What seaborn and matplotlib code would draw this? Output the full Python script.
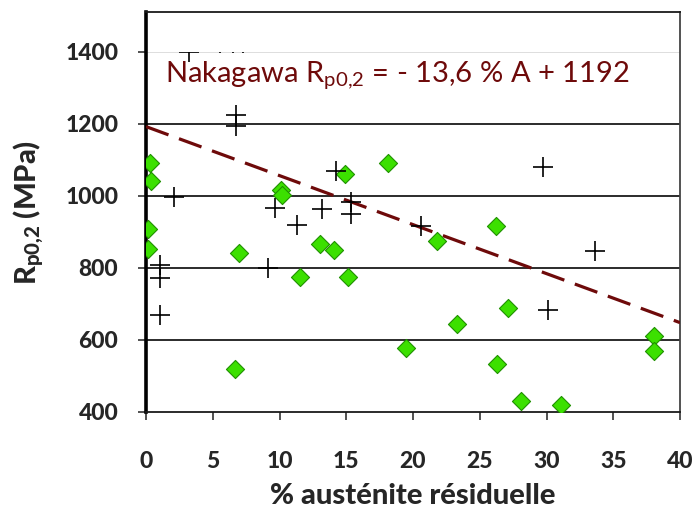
import matplotlib
matplotlib.use("Agg")
import matplotlib.pyplot as plt
from matplotlib.patches import Rectangle
import seaborn as sns
import pandas as pd

# Green series (diamonds): % retained austenite vs Rp0,2 (MPa)
green_x = [0.3, 0.35, 0.17, 0.17, 7.0, 10.1, 10.2, 13.0, 14.1, 11.5, 6.7,
           14.9, 18.15, 21.8, 26.2, 15.15, 19.5, 23.3, 27.1, 26.3, 28.1,
           31.1, 38.05, 38.05]
green_y = [1091, 1042, 907, 852, 841, 1017, 1003, 867, 850, 776, 519,
           1060, 1092, 875, 917, 776, 577, 643, 688, 532, 431,
           419, 611, 568]

# Black series (plus markers)
plus_x = [3.2, 5.55, 6.5, 7.3, 6.74, 6.74, 2.1, 9.66, 11.3, 13.2, 14.2,
          1.05, 1.05, 1.05, 9.16, 15.33, 15.33, 20.6, 29.76, 33.6, 30.1]
plus_y = [1400, 1424, 1424, 1424, 1225, 1193, 998, 966, 919, 964, 1069,
          808, 771, 669, 799, 984, 950, 917, 1079, 848, 683]

# Nakagawa fit: Rp0,2 = -13.6 * A + 1192
slope, intercept = -13.6, 1192
fit_x = [0, 40]

x_ticks = [0, 5, 10, 15, 20, 25, 30, 35, 40]
y_ticks = [400, 600, 800, 1000, 1200, 1400]

sns.set_theme(style="white")
plt.rcParams["font.family"] = ["Lato", "DejaVu Sans"]
plt.rcParams["mathtext.fontset"] = "custom"
plt.rcParams["mathtext.rm"] = "Lato"
plt.rcParams["mathtext.it"] = "Lato:italic"
plt.rcParams["mathtext.bf"] = "Lato:black"

fig = plt.figure(figsize=(6.97, 5.08), dpi=100)
ax = fig.add_axes([146 / 697, 1 - 412 / 508, (680 - 146) / 697, (412 - 12) / 508])

ax.set_xlim(0, 40)
ax.set_ylim(400, 1510)

# horizontal grid lines
for yv in y_ticks[1:]:
    ax.axhline(yv, color="#d8d8d8" if yv == 1400 else "#1a1a1a",
               lw=0.6 if yv == 1400 else 1.3, zorder=1)

fit_df = pd.DataFrame({"A": fit_x, "R": [slope * v + intercept for v in fit_x]})
sns.lineplot(data=fit_df, x="A", y="R", ax=ax, color="#6e0a0a", lw=2.3,
             dashes=False, zorder=3)
ax.lines[-1].set_dashes((7.5, 3.5))

green_df = pd.DataFrame({"A": green_x, "R": green_y})
sns.scatterplot(data=green_df, x="A", y="R", ax=ax, marker="D", s=85,
                color="#3ce000", edgecolor="#1f9000", linewidth=0.8, zorder=4)

plus_df = pd.DataFrame({"A": plus_x, "R": plus_y})
sns.scatterplot(data=plus_df, x="A", y="R", ax=ax, marker="+", s=190,
                color="black", linewidth=1.2, zorder=5)
clip = Rectangle((0, 400), 40, 1000, transform=ax.transData)
ax.collections[-1].set_clip_path(clip)

ax.text(1.4, 1335, r"Nakagawa R$_{\mathrm{p0{,}2}}$ = - 13,6 % A + 1192",
        color="#6e0a0a", fontsize=21, va="center", ha="left", zorder=6)

ax.set_xticks(x_ticks)
ax.set_yticks(y_ticks)
ax.set_xticklabels([str(v) for v in x_ticks], fontweight="black", fontsize=16.5)
ax.set_yticklabels([str(v) for v in y_ticks], fontweight="black", fontsize=16.5)
ax.tick_params(axis="both", direction="out", length=6, width=1.2,
               color="#333333", bottom=True, left=True)
ax.tick_params(axis="x", pad=22)
ax.tick_params(axis="y", pad=14)

for side, sp in ax.spines.items():
    sp.set_visible(True)
    sp.set_color("#1a1a1a")
    sp.set_linewidth(1.3)
ax.spines["left"].set_linewidth(2.6)
ax.spines["left"].set_color("black")
ax.spines["right"].set_color("#444444")

ax.set_xlabel("% austénite résiduelle", fontsize=21, fontweight="black", labelpad=8)
ax.set_ylabel(r"$\mathbf{R_{p0{,}2}}$ (MPa)", fontsize=21, fontweight="black", labelpad=14)

fig.savefig("out.png", dpi=100, facecolor="white")
